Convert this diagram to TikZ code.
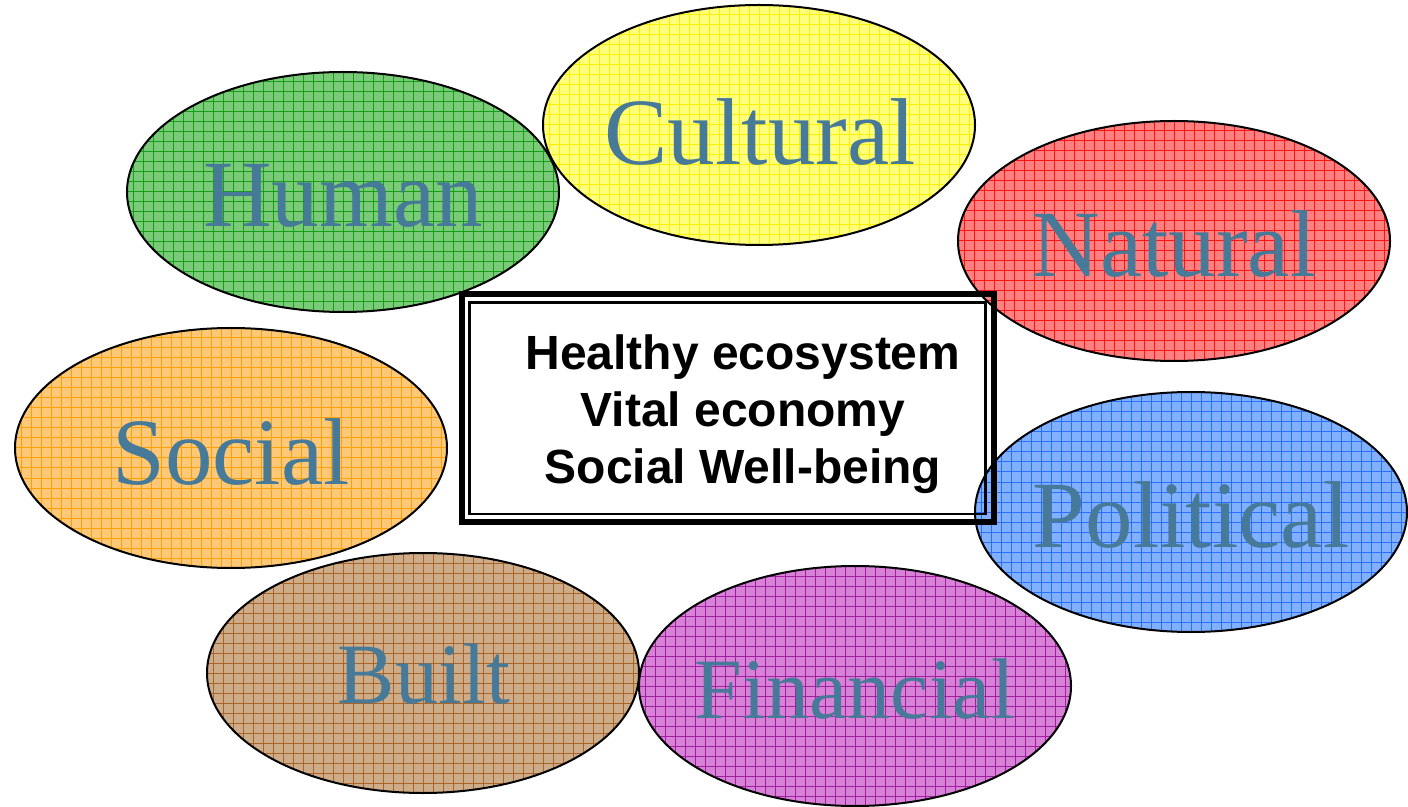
\documentclass[tikz,border=0pt]{standalone}
\usepackage{fontspec}
\setmainfont{Liberation Serif}
\newfontfamily\goalfont{Liberation Sans}
\usetikzlibrary{shapes.geometric}
\definecolor{myText}{RGB}{70,122,152}
\definecolor{myGreen}{RGB}{122,202,122}
\definecolor{myGreenLine}{RGB}{20,160,20}
\definecolor{myYellow}{RGB}{255,255,125}
\definecolor{myYellowLine}{RGB}{250,240,0}
\definecolor{myRed}{RGB}{255,128,128}
\definecolor{myRedLine}{RGB}{255,20,20}
\definecolor{myOrange}{RGB}{255,200,120}
\definecolor{myOrangeLine}{RGB}{255,160,0}
\definecolor{myBlue}{RGB}{128,176,255}
\definecolor{myBlueLine}{RGB}{40,110,255}
\definecolor{myBrown}{RGB}{205,172,138}
\definecolor{myBrownLine}{RGB}{170,100,40}
\definecolor{myPurple}{RGB}{215,130,215}
\definecolor{myPurpleLine}{RGB}{160,30,160}

\begin{document}
\begin{tikzpicture}[%
    x=0.5pt, y=-0.5pt,
    capital/.style n args={2}{
        ellipse, draw=black, line width=1pt, fill=#1,
        minimum width=216pt, minimum height=120pt, inner sep=0pt,
        % fine grid inside every ellipse
        path picture={
            \foreach \k in {-24,...,24}{
                \draw[#2, line width=0.5pt]
                    ([xshift=\k*5pt]path picture bounding box.north) --
                    ([xshift=\k*5pt]path picture bounding box.south);
                \draw[#2, line width=0.5pt]
                    ([yshift=\k*5pt]path picture bounding box.west) --
                    ([yshift=\k*5pt]path picture bounding box.east);
            }
        },
    },
    capname/.style={
        font=\fontsize{47.5}{57}\selectfont, text=myText, inner sep=0pt,
    },
    smallname/.style={
        capname, font=\fontsize{43}{52}\selectfont,
    },
    goals/.style={
        font=\goalfont\bfseries\fontsize{24}{28.5}\selectfont,
        align=center,
    },
]
\useasboundingbox (0,0) rectangle (1408,807);

% draw the seven capitals
\node[capital={myGreen}{myGreenLine}] (human) at (343,192) {};
\node[capital={myYellow}{myYellowLine}] (cultural) at (759,125) {};
\node[capital={myRed}{myRedLine}] (natural) at (1174,241) {};
\node[capital={myOrange}{myOrangeLine}] (social) at (231,448) {};
\node[capital={myBlue}{myBlueLine}] (political) at (1191,512) {};
\node[capital={myBrown}{myBrownLine}] (built) at (423,673) {};
\node[capital={myPurple}{myPurpleLine}] (financial) at (855,686) {};

% and their names
\node[capname] (humanName) at (343,196) {Human};
\node[capname] (culturalName) at (760,132) {Cultural};
\node[capname] (naturalName) at (1174,244) {Natural};
\node[capname] (socialName) at (231,452) {Social};
\node[capname] (politicalName) at (1191,515) {Political};
\node[smallname] (builtName) at (424,674) {Built};
\node[smallname] (financialName) at (855,689) {Financial};

% draw the framed box in the middle
\node[draw, line width=3pt, outer sep=0pt, inner sep=0pt,
    minimum width=266pt, minimum height=113.75pt] (frame) at (727.5,408.25) {};
\draw[line width=1.2pt] ([shift={(4pt,4pt)}]frame.south west)
    rectangle ([shift={(-4pt,-4pt)}]frame.north east);

% place the goals
\node[goals] (goals) at (743,414) {Healthy ecosystem\\Vital economy\\Social Well-being};
\end{tikzpicture}
\end{document}
